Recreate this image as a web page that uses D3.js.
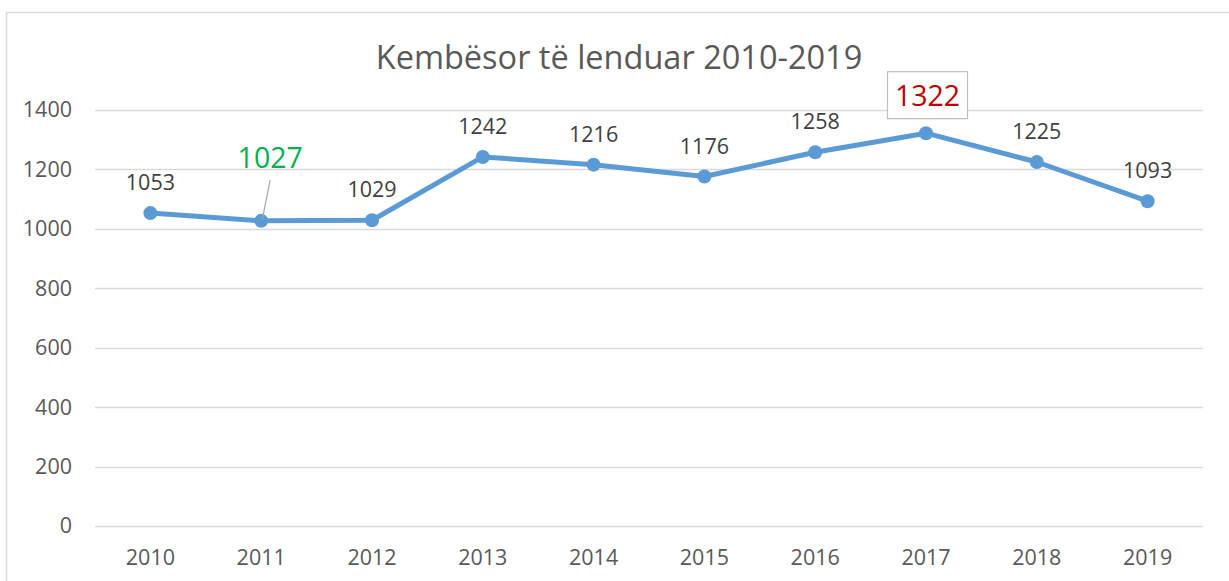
<!DOCTYPE html>
<html>
<head>
<meta charset="utf-8">
<script src="https://cdn.jsdelivr.net/npm/d3@7"></script>
<style>
  body { margin: 0; background: #fff; }
  svg { display: block; font-family: 'Open Sans', sans-serif; }
</style>
</head>
<body>
<svg id="chart" width="1229" height="581"></svg>
<script>
const years = ['2010', '2011', '2012', '2013', '2014', '2015', '2016', '2017', '2018', '2019'];
const injured = [1053, 1027, 1029, 1242, 1216, 1176, 1258, 1322, 1225, 1093];
const yTicks = [0, 200, 400, 600, 800, 1000, 1200, 1400];
const title = 'Kembësor të lenduar 2010-2019';
const minYear = '2011';
const maxYear = '2017';

const svg = d3.select('#chart');
const width = 1229;
const height = 581;
const margin = { top: 110, right: 26, bottom: 55, left: 95 };

// chart frame (cropped on the right and bottom)
svg.append('path')
  .attr('d', `M6.5,${height + 2}V12.5H${width + 2}`)
  .attr('fill', 'none')
  .attr('stroke', '#d9d9d9')
  .attr('stroke-width', 1.5);

const x = d3.scaleBand()
  .domain(years)
  .range([margin.left, width - margin.right]);

const y = d3.scaleLinear()
  .domain([0, 1400])
  .range([height - margin.bottom, margin.top]);

// gridlines
svg.append('g')
  .selectAll('line')
  .data(yTicks)
  .enter()
  .append('line')
  .attr('x1', margin.left)
  .attr('x2', width - margin.right)
  .attr('y1', d => Math.round(y(d)) + 0.5)
  .attr('y2', d => Math.round(y(d)) + 0.5)
  .attr('stroke', '#d9d9d9')
  .attr('stroke-width', 1.5);

// y axis labels
const yAxis = svg.append('g')
  .attr('transform', `translate(${margin.left - 5},0)`)
  .call(d3.axisLeft(y).tickValues(yTicks).tickFormat(d3.format('d')).tickSize(0).tickPadding(18));
yAxis.select('.domain').remove();
yAxis.selectAll('text')
  .attr('font-family', 'Open Sans, sans-serif')
  .attr('font-size', 21.5)
  .attr('fill', '#595959');

// x axis labels
const xAxis = svg.append('g')
  .attr('transform', `translate(0,${height - margin.bottom})`)
  .call(d3.axisBottom(x).tickSize(0).tickPadding(24));
xAxis.select('.domain').remove();
xAxis.selectAll('text')
  .attr('font-family', 'Open Sans, sans-serif')
  .attr('font-size', 21.5)
  .attr('fill', '#595959');

// title
svg.append('text')
  .attr('x', 619)
  .attr('y', 69)
  .attr('text-anchor', 'middle')
  .attr('font-size', 32.5)
  .attr('fill', '#595959')
  .text(title);

const cx = d => x(d) + x.bandwidth() / 2;
const points = years.map((d, i) => ({ year: d, value: injured[i] }));

const line = d3.line()
  .x(d => cx(d.year))
  .y(d => y(d.value));

svg.append('path')
  .datum(points)
  .attr('d', line)
  .attr('fill', 'none')
  .attr('stroke', '#5b9bd5')
  .attr('stroke-width', 5)
  .attr('stroke-linejoin', 'round');

svg.append('g')
  .selectAll('circle')
  .data(points)
  .enter()
  .append('circle')
  .attr('cx', d => cx(d.year))
  .attr('cy', d => y(d.value))
  .attr('r', 7)
  .attr('fill', '#5b9bd5');

// regular data labels
const regular = points.filter(d => d.year !== minYear && d.year !== maxYear);
svg.append('g')
  .selectAll('text')
  .data(regular)
  .enter()
  .append('text')
  .attr('x', d => cx(d.year))
  .attr('y', d => y(d.value) - 23)
  .attr('text-anchor', 'middle')
  .attr('font-size', 21.5)
  .attr('fill', '#404040')
  .text(d => d.value);

// minimum label with leader line
const minPoint = points.find(d => d.year === minYear);
const minX = cx(minYear);
const minY = y(minPoint.value);
svg.append('line')
  .attr('x1', minX + 9)
  .attr('y1', minY - 41)
  .attr('x2', minX + 1)
  .attr('y2', minY - 1)
  .attr('stroke', '#a6a6a6')
  .attr('stroke-width', 1.2);
svg.append('text')
  .attr('x', minX + 9)
  .attr('y', minY - 53)
  .attr('text-anchor', 'middle')
  .attr('font-size', 28.5)
  .attr('fill', '#00b050')
  .text(minPoint.value);

// maximum label in a box
const maxPoint = points.find(d => d.year === maxYear);
const maxX = cx(maxYear);
const maxY = y(maxPoint.value);
svg.append('rect')
  .attr('x', maxX - 38.5)
  .attr('y', maxY - 61.5)
  .attr('width', 80)
  .attr('height', 47)
  .attr('fill', '#fff')
  .attr('stroke', '#bfbfbf')
  .attr('stroke-width', 1.2);
svg.append('text')
  .attr('x', maxX + 1.5)
  .attr('y', maxY - 27)
  .attr('text-anchor', 'middle')
  .attr('font-size', 28.5)
  .attr('fill', '#c00000')
  .text(maxPoint.value);
</script>
</body>
</html>
